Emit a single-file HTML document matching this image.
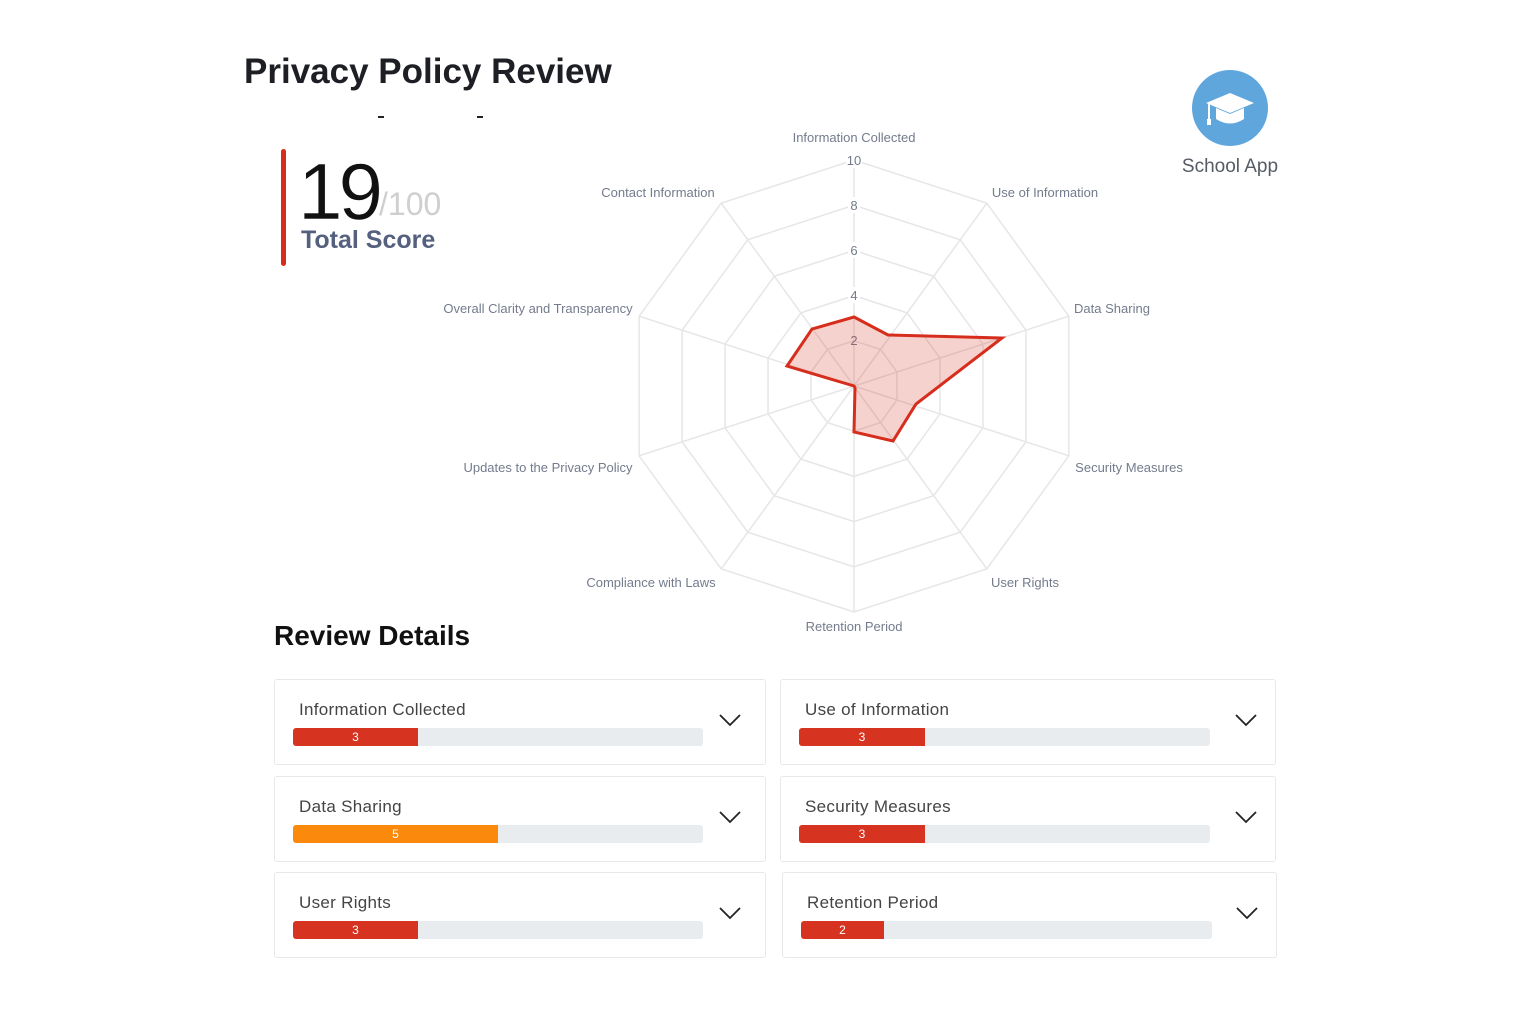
<!DOCTYPE html>
<html><head><meta charset="utf-8"><style>
body{margin:0;width:1536px;height:1024px;background:#fff;font-family:"Liberation Sans",sans-serif;position:relative;overflow:hidden}
.abs{position:absolute}
.card{position:absolute;width:492px;height:86px;border:1px solid #e6e8ea;border-radius:3px;box-sizing:border-box;background:#fff}
.card .t{position:absolute;left:24px;top:20px;font-size:17px;color:#444;letter-spacing:0.3px}
.card .bar{position:absolute;left:18px;top:48px;width:410px;height:18px;background:#e8ecef;border-radius:3px;overflow:hidden}
.card .fill{height:100%;background:#d63320;color:#fff;font-size:12px;text-align:center;line-height:18px}
.card svg{position:absolute;right:24px;top:34px}
.card.r svg{right:18px}
</style></head><body>
<div class="abs" style="left:244px;top:52px;font-size:35px;font-weight:bold;color:#1d1f24">Privacy Policy Review</div>
<div class="abs" style="left:378px;top:116px;width:6px;height:2px;background:#222"></div>
<div class="abs" style="left:477px;top:116px;width:6px;height:2px;background:#222"></div>
<div class="abs" style="left:281px;top:149px;width:5px;height:117px;background:#d62d1c;border-radius:3px"></div>
<div class="abs" style="left:298px;top:146px;font-size:80px;color:#111;letter-spacing:-4px;-webkit-text-stroke:0.5px #fff">19</div>
<div class="abs" style="left:379px;top:186px;font-size:32px;color:#cfcfcf">/100</div>
<div class="abs" style="left:301px;top:226px;font-size:25px;font-weight:bold;color:#55607f">Total Score</div>

<svg class="abs" style="left:1192px;top:70px" width="76" height="76" viewBox="0 0 76 76">
<circle cx="38" cy="38" r="38" fill="#5fa6dd"/>
<path d="M14 33 L38 23 L62 33 L38 43 Z" fill="#fff"/>
<path d="M24 38 L24 49 Q38 58 52 49 L52 38 L38 44 Z" fill="#fff"/>
<line x1="17" y1="34" x2="17" y2="50" stroke="#fff" stroke-width="2"/>
<rect x="15" y="49" width="4" height="6" fill="#fff"/>
</svg>
<div class="abs" style="left:1170px;top:156px;width:120px;text-align:center;font-size:19px;color:#555c66">School App</div>

<svg class="abs" style="left:0;top:0" width="1536" height="650">
<g transform="translate(854,386)" fill="none" stroke="#e6e6e6" stroke-width="1.5">
<g id="ring"><polygon vector-effect="non-scaling-stroke" points="0,-226 132.8,-182.8 214.9,-69.8 214.9,69.8 132.8,182.8 0,226 -132.8,182.8 -214.9,69.8 -214.9,-69.8 -132.8,-182.8"/></g>
<use href="#ring" transform="scale(0.8)"/><use href="#ring" transform="scale(0.6)"/><use href="#ring" transform="scale(0.4)"/><use href="#ring" transform="scale(0.2)"/>
<path d="M0 0L0 -226M0 0L132.8 -182.8M0 0L214.9 -69.8M0 0L214.9 69.8M0 0L132.8 182.8M0 0L0 226M0 0L-132.8 182.8M0 0L-214.9 69.8M0 0L-214.9 -69.8M0 0L-132.8 -182.8"/>
</g>
<g font-family="Liberation Sans" font-size="13" fill="#737b8c" text-anchor="middle">
<rect x="846" y="152" width="16" height="16" fill="#fff"/><text x="854" y="165">10</text>
<rect x="848" y="197" width="12" height="16" fill="#fff"/><text x="854" y="210">8</text>
<rect x="848" y="242" width="12" height="16" fill="#fff"/><text x="854" y="255">6</text>
<rect x="848" y="287" width="12" height="16" fill="#fff"/><text x="854" y="300">4</text>
<text x="854" y="345">2</text>
<text x="854" y="142">Information Collected</text>
<text x="1045" y="197">Use of Information</text>
<text x="1112" y="313">Data Sharing</text>
<text x="1129" y="472">Security Measures</text>
<text x="1025" y="587">User Rights</text>
<text x="854" y="631">Retention Period</text>
<text x="651" y="587">Compliance with Laws</text>
<text x="548" y="472">Updates to the Privacy Policy</text>
<text x="538" y="313">Overall Clarity and Transparency</text>
<text x="658" y="197">Contact Information</text>
</g>
<polygon points="854,317 888,335 1002,338 916,404 893,441 854,432 855,388 854,386 787,366 812,329" fill="rgba(214,51,32,0.22)" stroke="#d62d1c" stroke-width="3" stroke-linejoin="miter"/>
</svg>

<div class="abs" style="left:274px;top:620px;font-size:28px;font-weight:bold;color:#111">Review Details</div>

<div class="card" style="left:274px;top:679px"><div class="t">Information Collected</div><div class="bar"><div class="fill" style="width:125px">3</div></div><svg width="22" height="14"><path d="M1 1L11 11L21 1" fill="none" stroke="#222" stroke-width="1.8"/></svg></div>
<div class="card r" style="left:780px;top:679px;width:496px"><div class="t">Use of Information</div><div class="bar" style="width:411px"><div class="fill" style="width:126px">3</div></div><svg width="22" height="14"><path d="M1 1L11 11L21 1" fill="none" stroke="#222" stroke-width="1.8"/></svg></div>
<div class="card" style="left:274px;top:776px"><div class="t">Data Sharing</div><div class="bar"><div class="fill" style="width:205px;background:#fb8a0c">5</div></div><svg width="22" height="14"><path d="M1 1L11 11L21 1" fill="none" stroke="#222" stroke-width="1.8"/></svg></div>
<div class="card r" style="left:780px;top:776px;width:496px"><div class="t">Security Measures</div><div class="bar" style="width:411px"><div class="fill" style="width:126px">3</div></div><svg width="22" height="14"><path d="M1 1L11 11L21 1" fill="none" stroke="#222" stroke-width="1.8"/></svg></div>
<div class="card" style="left:274px;top:872px"><div class="t">User Rights</div><div class="bar"><div class="fill" style="width:125px">3</div></div><svg width="22" height="14"><path d="M1 1L11 11L21 1" fill="none" stroke="#222" stroke-width="1.8"/></svg></div>
<div class="card r" style="left:782px;top:872px;width:495px"><div class="t">Retention Period</div><div class="bar" style="width:411px"><div class="fill" style="width:83px">2</div></div><svg width="22" height="14"><path d="M1 1L11 11L21 1" fill="none" stroke="#222" stroke-width="1.8"/></svg></div>
</body></html>
